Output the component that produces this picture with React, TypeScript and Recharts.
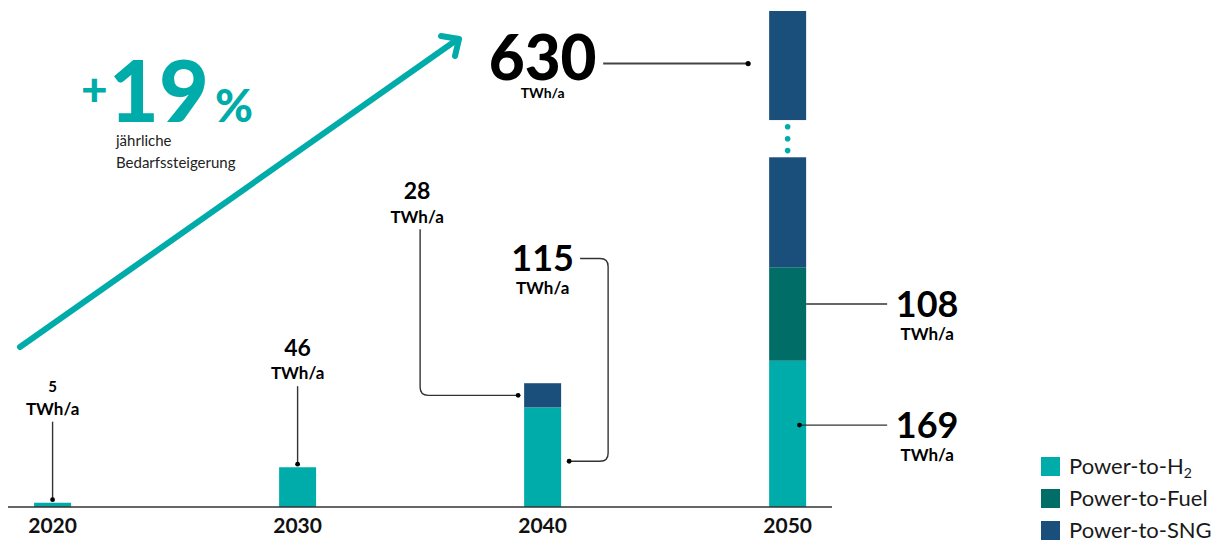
import React from "react";
import { BarChart, Bar, XAxis, YAxis, LabelList, Legend, Customized } from "recharts";

// Bedarf an strombasierten Energieträgern (TWh/a)
const years = [2020, 2030, 2040, 2050];
const powerToH2 = [5, 46, 115, 169];
const powerToFuel = [0, 0, 0, 108];
const powerToSng = [0, 0, 28, 630];

const seriesKeys = ["h2", "fuel", "sng"];
const seriesLabels = ["Power-to-H", "Power-to-Fuel", "Power-to-SNG"];
const seriesSubscripts = ["2", "", ""];

const growthRate = "19";
const growthCaption = ["jährliche", "Bedarfssteigerung"];
const UNIT = "TWh/a";

const COLORS: Record<string, string> = {
  h2: "#00aca9",
  fuel: "#006d66",
  sng: "#1b4f7b",
};
const TEAL = "#00aca9";
const LINE = "#333";
const FONT = "Lato, 'Noto Sans', sans-serif";

const W = 1229;
const H = 541;
const MARGIN = { top: 11, right: 397, bottom: 0, left: 8 };
const X_AXIS_H = 34;
const PLOT_TOP = MARGIN.top;
const PLOT_BOTTOM = H - X_AXIS_H;
const Y_MAX = 573;
const PPU = (PLOT_BOTTOM - PLOT_TOP) / Y_MAX;
// axis break for the 2050 SNG bar
const BREAK = [404, 447];

const rows = years.map((year, i) => ({
  year,
  h2: powerToH2[i],
  fuel: powerToFuel[i],
  sng: powerToSng[i],
}));

const yOf = (v: number) => PLOT_BOTTOM - v * PPU;
const overflows = (i: number) => powerToH2[i] + powerToFuel[i] + powerToSng[i] > Y_MAX;

function getBox(p: any) {
  const vb = p.viewBox && p.viewBox.width !== undefined ? p.viewBox : p;
  return { x: Number(vb.x), y: Number(vb.y), w: Number(vb.width), h: Number(vb.height) };
}

const numSize = (v: number) => (v >= 600 ? 62 : v >= 100 ? 36 : v >= 10 ? 23 : 15);

function ValueLabel({ cx, base, v, unitBase, unitSize = 17 }: any) {
  const size = numSize(v);
  return (
    <g style={{ fontFamily: FONT }}>
      <text x={cx} y={base} textAnchor="middle" fontSize={size} fontWeight={size > 50 ? 900 : 700} fill="#000">
        {v}
      </text>
      <text x={cx} y={unitBase} textAnchor="middle" fontSize={unitSize} fontWeight={700} fill="#000">
        {UNIT}
      </text>
    </g>
  );
}

function SideCallout({ x0, x1, y, v, dot }: any) {
  return (
    <g>
      <line x1={x0} y1={y} x2={x1} y2={y} stroke={LINE} strokeWidth={1.4} />
      {dot && <circle cx={x0} cy={y} r={2.4} fill="#000" />}
      <ValueLabel cx={x1 + 40} base={y + 13} v={v} unitBase={y + 36} />
    </g>
  );
}

function H2Callout(p: any) {
  const i = years.indexOf(Number(p.value));
  if (i < 0) return null;
  const v = powerToH2[i];
  const { x, y, w, h } = getBox(p);
  const cx = x + w / 2;
  if (i < 2) {
    const lineTop = y - 81;
    return (
      <g>
        <line x1={cx} y1={lineTop} x2={cx} y2={y - 3} stroke={LINE} strokeWidth={1.4} />
        <circle cx={cx} cy={y - 3} r={2.4} fill="#000" />
        <ValueLabel cx={cx} base={lineTop - 30} v={v} unitBase={lineTop - 7} />
      </g>
    );
  }
  if (i === 2) {
    const xr = x + w;
    const dx = xr + 8;
    const dy = y + h / 2 + 4;
    const bx = xr + 47;
    const ly = y - 149;
    const r = 8;
    return (
      <g>
        <path
          d={`M${dx},${dy} H${bx - r} Q${bx},${dy} ${bx},${dy - r} V${ly + r} Q${bx},${ly} ${bx - r},${ly} H${xr + 19}`}
          fill="none"
          stroke={LINE}
          strokeWidth={1.4}
        />
        <circle cx={dx} cy={dy} r={2.4} fill="#000" />
        <ValueLabel cx={cx} base={ly + 13} v={v} unitBase={ly + 36} />
      </g>
    );
  }
  return <SideCallout x0={x + w * 0.82} x1={x + w + 81} y={y + h * 0.44} v={v} dot />;
}

function FuelCallout(p: any) {
  const i = years.indexOf(Number(p.value));
  const v = powerToFuel[i];
  if (i < 0 || !v) return null;
  const { x, y, w, h } = getBox(p);
  return <SideCallout x0={x + w} x1={x + w + 81} y={y + h / 2 - 10} v={v} />;
}

function SngCallout(p: any) {
  const i = years.indexOf(Number(p.value));
  const v = powerToSng[i];
  if (i < 0 || !v) return null;
  const { x, y, h } = getBox(p);
  if (!overflows(i)) {
    const dy = y + h / 2;
    const lx = x - 104;
    const lineTop = y - 154;
    const r = 8;
    return (
      <g>
        <path
          d={`M${x - 6},${dy} H${lx + r} Q${lx},${dy} ${lx},${dy - r} V${lineTop}`}
          fill="none"
          stroke={LINE}
          strokeWidth={1.4}
        />
        <circle cx={x - 6} cy={dy} r={2.4} fill="#000" />
        <ValueLabel cx={lx - 3} base={lineTop - 30} v={v} unitBase={lineTop - 6} />
      </g>
    );
  }
  const ly = (PLOT_TOP + yOf(BREAK[1])) / 2 - 2;
  return (
    <g>
      <line x1={x - 166} y1={ly} x2={x - 21} y2={ly} stroke="#444" strokeWidth={2} />
      <circle cx={x - 21} cy={ly} r={2.6} fill="#000" />
      <ValueLabel cx={x - 226.5} base={ly + 16.5} v={v} unitBase={ly + 34} unitSize={14} />
    </g>
  );
}

function SngShape(p: any) {
  const { x, y, width, height, fill, payload } = p;
  if (!height || height <= 0) return null;
  const i = years.indexOf(Number(payload?.year));
  if (i < 0 || !overflows(i)) return <rect x={x} y={y} width={width} height={height} fill={fill} />;
  const bottom = y + height;
  const lo = yOf(BREAK[0]);
  const hi = yOf(BREAK[1]);
  const gap = lo - hi;
  const cx = x + width / 2;
  return (
    <g>
      <rect x={x} y={lo} width={width} height={bottom - lo} fill={fill} />
      <rect x={x} y={PLOT_TOP} width={width} height={hi - PLOT_TOP} fill={fill} />
      {[0.18, 0.5, 0.82].map((f) => (
        <circle key={f} cx={cx} cy={hi + gap * f} r={2.8} fill={TEAL} />
      ))}
    </g>
  );
}

function GrowthBadge() {
  return (
    <g style={{ fontFamily: FONT }}>
      <line x1={20} y1={347} x2={458} y2={39} stroke={TEAL} strokeWidth={6} strokeLinecap="round" />
      <polyline
        points="441,36 459,39 455,56"
        fill="none"
        stroke={TEAL}
        strokeWidth={6}
        strokeLinecap="round"
        strokeLinejoin="round"
      />
      <text x={81} y={106} fontSize={46} fontWeight={900} fill={TEAL}>
        +
      </text>
      <text x={109} y={122} fontSize={86} fontWeight={900} fill={TEAL}>
        {growthRate}
      </text>
      <text x={215} y={122} fontSize={46} fontWeight={900} fill={TEAL}>
        %
      </text>
      {growthCaption.map((t, i) => (
        <text key={t} x={116} y={146 + i * 22} fontSize={15} fill="#222">
          {t}
        </text>
      ))}
    </g>
  );
}

function LegendBox() {
  return (
    <div style={{ fontFamily: FONT, fontSize: 22, lineHeight: 1, color: "#1a1a1a" }}>
      {seriesKeys.map((k, i) => (
        <div key={k} style={{ display: "flex", alignItems: "center", height: 22, marginBottom: 10 }}>
          <span style={{ width: 19, height: 19, background: COLORS[k], marginRight: 9, flex: "none" }} />
          <span style={{ whiteSpace: "nowrap", lineHeight: 1 }}>
            {seriesLabels[i]}
            {seriesSubscripts[i] && (
              <sub style={{ fontSize: 14, lineHeight: 0, verticalAlign: "-0.25em" }}>{seriesSubscripts[i]}</sub>
            )}
          </span>
        </div>
      ))}
    </div>
  );
}

function YearTick(p: any) {
  return (
    <text x={p.x} y={PLOT_BOTTOM + 26} textAnchor="middle" fontSize={21} fontWeight={700} fill="#111" style={{ fontFamily: FONT }}>
      {p.payload.value}
    </text>
  );
}

export default function App() {
  return (
    <div style={{ position: "absolute", left: 0, top: 0, width: W, height: H, background: "#fff" }}>
      <BarChart width={W} height={H} data={rows} margin={MARGIN}>
        <XAxis
          dataKey="year"
          type="number"
          domain={[2018.18, 2051.81]}
          ticks={years}
          height={X_AXIS_H}
          tickLine={false}
          axisLine={{ stroke: "#333", strokeWidth: 1.3 }}
          tick={YearTick}
          interval={0}
        />
        <YAxis hide type="number" domain={[0, Y_MAX]} allowDataOverflow />
        <Legend
          layout="vertical"
          align="center"
          verticalAlign="middle"
          content={LegendBox}
          wrapperStyle={{ left: 1041, top: 455, width: 188, height: "auto" }}
        />
        <Bar dataKey="h2" stackId="a" barSize={37} fill={COLORS.h2} isAnimationActive={false}>
          <LabelList dataKey="year" content={H2Callout} />
        </Bar>
        <Bar dataKey="fuel" stackId="a" barSize={37} fill={COLORS.fuel} isAnimationActive={false}>
          <LabelList dataKey="year" content={FuelCallout} />
        </Bar>
        <Bar dataKey="sng" stackId="a" barSize={37} fill={COLORS.sng} shape={SngShape} isAnimationActive={false}>
          <LabelList dataKey="year" content={SngCallout} />
        </Bar>
        <Customized component={GrowthBadge} />
      </BarChart>
    </div>
  );
}
